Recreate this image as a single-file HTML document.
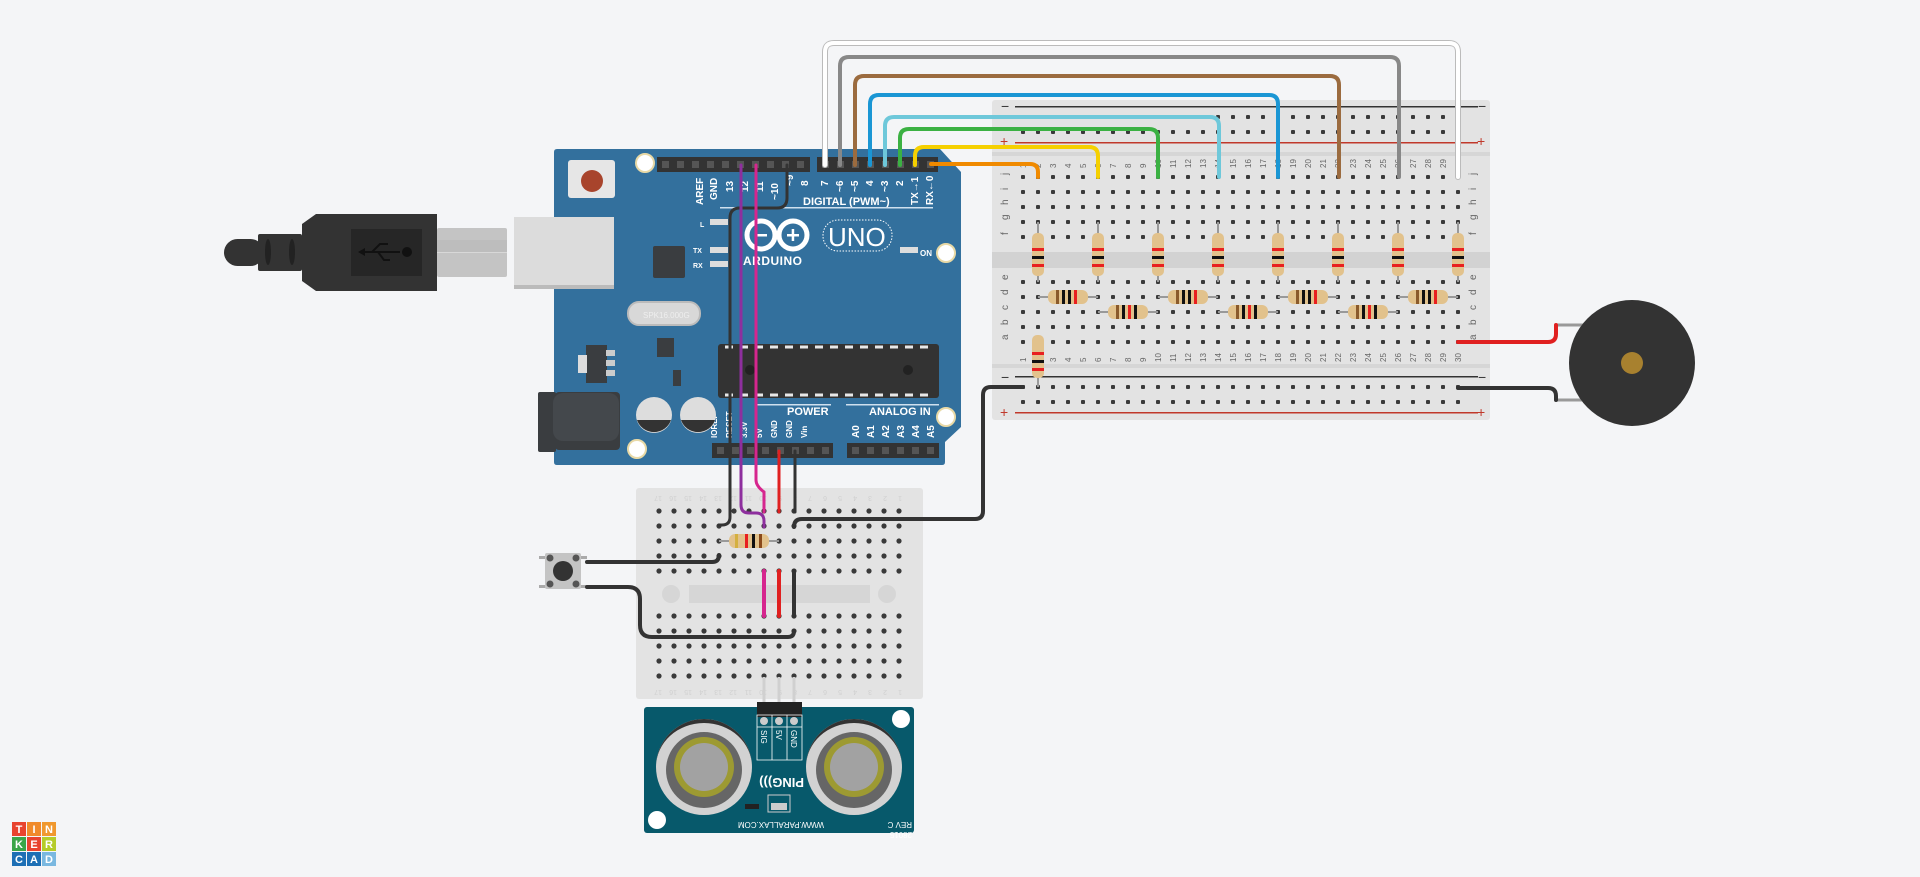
<!DOCTYPE html>
<html><head><meta charset="utf-8"><style>
html,body{margin:0;padding:0;background:#f4f5f7;}
svg{display:block;font-family:"Liberation Sans",sans-serif;}
</style></head><body>
<svg id="s" width="1920" height="877" viewBox="0 0 1920 877" xmlns="http://www.w3.org/2000/svg">
<defs>
<pattern id="hb" x="1015.5" y="169.5" width="15" height="15" patternUnits="userSpaceOnUse"><rect x="5.5" y="5.5" width="4" height="4" rx="1" fill="#3a3a3a"/></pattern>
<pattern id="hs" x="651.5" y="503.5" width="15" height="15" patternUnits="userSpaceOnUse"><circle cx="7.5" cy="7.5" r="2.6" fill="#3a3a3a"/></pattern>
</defs>

<!-- USB cable -->
<rect x="224" y="239" width="40" height="27" rx="13.5" fill="#333"/>
<rect x="258" y="234" width="44" height="37" rx="2" fill="#333"/>
<ellipse cx="268" cy="252" rx="3" ry="13" fill="#222"/><ellipse cx="292" cy="252" rx="3" ry="13" fill="#222"/>
<path d="M302,224 L316,214 H437 V291 H316 L302,281 Z" fill="#333"/>
<rect x="351" y="229" width="71" height="47" fill="#262626"/>
<path d="M362,252 H400 M372,252 l8,-8 h8 M378,252 l6,8 h6" stroke="#111" stroke-width="2" fill="none"/>
<circle cx="407" cy="252" r="5" fill="#111"/><polygon points="358,252 365,248 365,256" fill="#111"/>
<rect x="437" y="228" width="70" height="49" rx="2" fill="#c4c4c4"/>
<rect x="437" y="240" width="70" height="12" fill="#bdbdbd"/>
<rect x="437" y="252" width="70" height="1" fill="#d8d8d8"/>

<!-- Arduino -->
<path d="M554,152 Q554,149 557,149 H940 L961,172 V427 L945,442 V462 Q945,465 942,465 H557 Q554,465 554,462 Z" fill="#33709d"/>
<rect x="538" y="392" width="18" height="60" rx="2" fill="#3a3d40"/>
<rect x="555" y="392" width="65" height="58" rx="4" fill="#3a3d40"/>
<rect x="553" y="393" width="66" height="48" rx="10" fill="#44484c"/>
<rect x="514" y="217" width="100" height="72" fill="#dcdcdc"/>
<rect x="514" y="285" width="100" height="4" fill="#bbb"/>
<rect x="568" y="160" width="47" height="38" rx="3" fill="#e6e6e6"/>
<circle cx="592" cy="181" r="11" fill="#a8442c"/>
<circle cx="645" cy="163" r="9" fill="#fff" stroke="#e8d9a6" stroke-width="2"/>
<circle cx="946" cy="253" r="9" fill="#fff" stroke="#e8d9a6" stroke-width="2"/>
<circle cx="946" cy="417" r="9" fill="#fff" stroke="#e8d9a6" stroke-width="2"/>
<circle cx="637" cy="449" r="9" fill="#fff" stroke="#e8d9a6" stroke-width="2"/>
<!-- headers -->
<rect x="657" y="157" width="153" height="15" fill="#333"/>
<rect x="817" y="157" width="121" height="15" fill="#333"/>
<rect x="712" y="443" width="121" height="15" fill="#333"/>
<rect x="847" y="443" width="92" height="15" fill="#333"/>
<g fill="#555">
<rect x="662" y="161" width="7" height="7"/><rect x="677" y="161" width="7" height="7"/><rect x="692" y="161" width="7" height="7"/><rect x="707" y="161" width="7" height="7"/><rect x="722" y="161" width="7" height="7"/><rect x="737" y="161" width="7" height="7"/><rect x="752" y="161" width="7" height="7"/><rect x="767" y="161" width="7" height="7"/><rect x="782" y="161" width="7" height="7"/><rect x="797" y="161" width="7" height="7"/>
<rect x="822" y="161" width="7" height="7"/><rect x="837" y="161" width="7" height="7"/><rect x="852" y="161" width="7" height="7"/><rect x="867" y="161" width="7" height="7"/><rect x="882" y="161" width="7" height="7"/><rect x="897" y="161" width="7" height="7"/><rect x="912" y="161" width="7" height="7"/><rect x="927" y="161" width="7" height="7"/>
<rect x="717" y="447" width="7" height="7"/><rect x="732" y="447" width="7" height="7"/><rect x="747" y="447" width="7" height="7"/><rect x="762" y="447" width="7" height="7"/><rect x="777" y="447" width="7" height="7"/><rect x="792" y="447" width="7" height="7"/><rect x="807" y="447" width="7" height="7"/><rect x="822" y="447" width="7" height="7"/>
<rect x="852" y="447" width="7" height="7"/><rect x="867" y="447" width="7" height="7"/><rect x="882" y="447" width="7" height="7"/><rect x="897" y="447" width="7" height="7"/><rect x="912" y="447" width="7" height="7"/><rect x="927" y="447" width="7" height="7"/>
</g>
<g fill="#fff" font-size="10" font-weight="bold">
<g transform="rotate(-90)">
<text x="-205" y="703">AREF</text><text x="-200" y="717">GND</text><text x="-192" y="733">13</text><text x="-192" y="748">12</text><text x="-192" y="763">11</text><text x="-200" y="778">~10</text><text x="-186" y="793">~9</text><text x="-186" y="808">8</text>
<text x="-186" y="828">7</text><text x="-192" y="843">~6</text><text x="-192" y="858">~5</text><text x="-186" y="873">4</text><text x="-192" y="888">~3</text><text x="-186" y="903">2</text><text x="-205" y="918">TX→1</text><text x="-205" y="933">RX←0</text>
<text x="-438" y="717" font-size="8">IOREF</text><text x="-438" y="732" font-size="8">RESET</text><text x="-438" y="747" font-size="8">3.3V</text><text x="-438" y="762" font-size="8">5V</text><text x="-438" y="777" font-size="8">GND</text><text x="-438" y="792" font-size="8">GND</text><text x="-438" y="807" font-size="8">Vin</text>
<text x="-438" y="859">A0</text><text x="-438" y="874">A1</text><text x="-438" y="889">A2</text><text x="-438" y="904">A3</text><text x="-438" y="919">A4</text><text x="-438" y="934">A5</text>
</g>
<text x="803" y="205" font-size="11">DIGITAL (PWM~)</text>
<text x="787" y="415" font-size="11">POWER</text>
<text x="869" y="415" font-size="11">ANALOG IN</text>
<text x="700" y="227" font-size="7">L</text><text x="693" y="253" font-size="7">TX</text><text x="693" y="268" font-size="7">RX</text><text x="920" y="256" font-size="8">ON</text>
<text x="743" y="265" font-size="12" letter-spacing="0.5">ARDUINO</text>
</g>
<rect x="720" y="207" width="213" height="1.5" fill="#cfe0ee"/>
<rect x="755" y="404" width="76" height="1.5" fill="#cfe0ee"/><rect x="846" y="404" width="93" height="1.5" fill="#cfe0ee"/>
<g fill="#ddd"><rect x="710" y="219" width="18" height="6"/><rect x="710" y="247" width="18" height="6"/><rect x="710" y="261" width="18" height="6"/><rect x="900" y="247" width="18" height="6"/></g>
<circle cx="761" cy="235" r="14" fill="none" stroke="#fff" stroke-width="5"/><circle cx="793" cy="235" r="14" fill="none" stroke="#fff" stroke-width="5"/>
<rect x="755" y="234" width="12" height="2.5" fill="#fff"/><rect x="787" y="234" width="12" height="2.5" fill="#fff"/><rect x="791.7" y="229" width="2.5" height="12" fill="#fff"/>
<rect x="823" y="220" width="69" height="31" rx="15" fill="none" stroke="#fff" stroke-width="1" stroke-dasharray="1.5 1.5"/>
<text x="828" y="246" fill="#fff" font-size="26">UNO</text>
<rect x="653" y="246" width="32" height="32" rx="2" fill="#3a3d40"/>
<rect x="628" y="302" width="72" height="23" rx="11" fill="#d8d8d8" stroke="#bbb" stroke-width="2"/>
<text x="643" y="318" font-size="8" fill="#eee">SPK16.000G</text>
<rect x="586" y="345" width="21" height="38" fill="#3a3d40"/>
<rect x="606" y="350" width="9" height="6" fill="#ccc"/><rect x="606" y="360" width="9" height="6" fill="#ccc"/><rect x="606" y="370" width="9" height="6" fill="#ccc"/>
<rect x="578" y="355" width="9" height="18" fill="#ddd"/>
<rect x="657" y="338" width="17" height="19" fill="#3a3d40"/>
<rect x="673" y="370" width="8" height="16" fill="#3a3d40"/>
<rect x="718" y="344" width="221" height="54" rx="3" fill="#333"/>
<path d="M725,347 H935" stroke="#e8e8e8" stroke-width="3" stroke-dasharray="8 7"/>
<path d="M725,395 H935" stroke="#e8e8e8" stroke-width="3" stroke-dasharray="8 7"/>
<circle cx="750" cy="370" r="5" fill="#222"/><circle cx="908" cy="370" r="5" fill="#222"/>
<circle cx="654" cy="415" r="18" fill="#ddd"/><path d="M637,420 A18,18 0 0 0 671,420 Z" fill="#333"/>
<circle cx="698" cy="415" r="18" fill="#ddd"/><path d="M681,420 A18,18 0 0 0 715,420 Z" fill="#333"/>

<!-- Big breadboard -->
<rect x="992" y="100" width="498" height="320" rx="3" fill="#e3e3e3"/>
<rect x="992" y="252" width="498" height="16" fill="#d2d2d2"/>
<rect x="992" y="152" width="498" height="4" fill="#d6d6d6"/>
<rect x="992" y="364" width="498" height="4" fill="#d6d6d6"/>
<rect x="1015" y="106" width="463" height="1.5" fill="#333"/>
<rect x="1015" y="142" width="463" height="1.5" fill="#c0392b"/>
<rect x="1015" y="376" width="463" height="1.5" fill="#333"/>
<rect x="1015" y="412" width="463" height="1.5" fill="#c0392b"/>
<g font-size="14" fill="#333"><text x="1001" y="111">−</text><text x="1478" y="111">−</text><text x="1001" y="382">−</text><text x="1478" y="382">−</text></g>
<g font-size="14" fill="#c0392b"><text x="1000" y="146">+</text><text x="1477" y="146">+</text><text x="1000" y="417">+</text><text x="1477" y="417">+</text></g>
<rect x="1015.5" y="109.5" width="450" height="30" fill="url(#hb)"/>
<rect x="1015.5" y="379.5" width="450" height="30" fill="url(#hb)"/>
<rect x="1015.5" y="169.5" width="450" height="75" fill="url(#hb)"/>
<rect x="1015.5" y="274.5" width="450" height="75" fill="url(#hb)"/>
<g id="bbtext" font-size="8" fill="#666"></g>

<!-- Small breadboard -->
<rect x="636" y="488" width="287" height="211" rx="3" fill="#e3e3e3"/>
<rect x="689" y="585" width="181" height="18" fill="#d6d6d6"/>
<circle cx="671" cy="594" r="9" fill="#d6d6d6"/><circle cx="887" cy="594" r="9" fill="#d6d6d6"/>
<rect x="651.5" y="503.5" width="255" height="75" fill="url(#hs)"/>
<rect x="651.5" y="608.5" width="255" height="75" fill="url(#hs)"/>
<g id="sbtext" font-size="7" fill="#d0d0d0"></g>

<!-- Ping sensor -->
<rect x="644" y="707" width="270" height="126" rx="3" fill="#07596b"/>
<g>
<circle cx="704" cy="767" r="48" fill="#d2d2d2"/><path d="M656,767 A48,48 0 0 1 752,767 A48,44 0 0 0 656,767Z" fill="#333"/>
<circle cx="704" cy="770" r="38" fill="#666"/><circle cx="704" cy="767" r="30" fill="#9d9a32"/><circle cx="704" cy="767" r="24" fill="#a2a2a2"/>
<circle cx="854" cy="767" r="48" fill="#d2d2d2"/><path d="M806,767 A48,48 0 0 1 902,767 A48,44 0 0 0 806,767Z" fill="#333"/>
<circle cx="854" cy="770" r="38" fill="#666"/><circle cx="854" cy="767" r="30" fill="#9d9a32"/><circle cx="854" cy="767" r="24" fill="#a2a2a2"/>
</g>
<circle cx="901" cy="719" r="9" fill="#fff"/><circle cx="657" cy="820" r="9" fill="#fff"/>
<path d="M764,677 V705 M779,677 V705 M794,677 V705" stroke="#d0d0d0" stroke-width="3"/>
<rect x="757" y="702" width="45" height="15" fill="#222"/>
<path d="M757,715 H802 V760 H757 Z M772,715 V760 M787,715 V760 M757,727 H802" stroke="#fff" stroke-width="0.8" fill="none"/>
<circle cx="764" cy="721" r="4" fill="#ccc"/><circle cx="779" cy="721" r="4" fill="#ccc"/><circle cx="794" cy="721" r="4" fill="#ccc"/>
<g fill="#fff" font-size="8">
<text transform="translate(761,730) rotate(90)">SIG</text><text transform="translate(776,730) rotate(90)">5V</text><text transform="translate(791,730) rotate(90)">GND</text>
<text transform="translate(804,778) rotate(180)" font-size="13" font-weight="bold">PING)))</text>
<text transform="translate(824,822) rotate(180)" font-size="8">WWW.PARALLAX.COM</text>
<text transform="translate(912,832) rotate(180)" font-size="8">28015</text>
<text transform="translate(912,822) rotate(180)" font-size="8">REV C</text>
</g>
<rect x="768" y="795" width="22" height="17" fill="none" stroke="#ccc"/><rect x="771" y="803" width="16" height="7" fill="#ccc"/>
<rect x="745" y="804" width="14" height="5" fill="#222"/>

<!-- Button -->
<rect x="539" y="556" width="48" height="3" fill="#aaa"/><rect x="539" y="585" width="48" height="3" fill="#aaa"/>
<rect x="545" y="553" width="36" height="36" rx="2" fill="#c4c4c4"/>
<circle cx="550" cy="558" r="3.5" fill="#555"/><circle cx="576" cy="558" r="3.5" fill="#555"/><circle cx="550" cy="584" r="3.5" fill="#555"/><circle cx="576" cy="584" r="3.5" fill="#555"/>
<circle cx="563" cy="571" r="10" fill="#333"/>

<!-- Buzzer -->
<path d="M1556,325 H1590 M1556,400 H1590" stroke="#999" stroke-width="3"/>
<circle cx="1632" cy="363" r="63" fill="#333"/>
<circle cx="1632" cy="363" r="11" fill="#a8812f"/>

<!-- Resistors -->
<g id="res"></g>

<!-- Wires -->
<g fill="none" stroke-width="4" stroke-linecap="round">
<path d="M825,165 V52 Q825,43 834,43 H1449 Q1458,43 1458,52 V177" stroke="#bbb" stroke-width="6"/>
<path d="M825,165 V52 Q825,43 834,43 H1449 Q1458,43 1458,52 V177" stroke="#fff"/>
<path d="M840,165 V66 Q840,57 849,57 H1390 Q1399,57 1399,66 V177" stroke="#888"/>
<path d="M855,165 V85 Q855,76 864,76 H1330 Q1339,76 1339,85 V177" stroke="#9b6b3f"/>
<path d="M870,165 V104 Q870,95 879,95 H1269 Q1278,95 1278,104 V177" stroke="#1a96d4"/>
<path d="M885,165 V126 Q885,117 894,117 H1210 Q1219,117 1219,126 V177" stroke="#6ec8da"/>
<path d="M900,165 V138 Q900,129 909,129 H1149 Q1158,129 1158,138 V177" stroke="#3bb143"/>
<path d="M915,165 V156 Q915,147 924,147 H1089 Q1098,147 1098,156 V177" stroke="#f5d000"/>
<path d="M931,164 H1030 Q1038,164 1038,172 V177" stroke="#f08a00"/>
<path d="M787,165 V198 Q787,208 777,208 H740 Q730,208 730,218 V517 Q730,525 722,525 H719" stroke="#333" stroke-width="3"/>
<path d="M741,165 V505 Q741,513 749,513 H756 Q764,513 764,521 V527" stroke="#8e2f9e" stroke-width="3"/>
<path d="M756,165 V480 Q756,486 764,492 V512" stroke="#d6268e" stroke-width="3"/>
<path d="M779,451 V512" stroke="#e02020" stroke-width="3"/>
<path d="M795,451 V512" stroke="#333" stroke-width="3"/>
<path d="M764,571 V616" stroke="#d6268e"/>
<path d="M779,571 V616" stroke="#e02020"/>
<path d="M794,571 V616" stroke="#333"/>
<path d="M1023,387 H991 Q983,387 983,395 V511 Q983,519 975,519 H802 Q794,519 794,527" stroke="#333"/>
<path d="M587,562 H712 Q719,562 719,555" stroke="#333"/>
<path d="M587,587 H628 Q640,587 640,599 V625 Q640,637 652,637 H788 Q794,637 794,631" stroke="#333"/>
<path d="M1458,342 H1548 Q1556,342 1556,334 V325" stroke="#e02020"/>
<path d="M1458,388 H1548 Q1556,388 1556,396 V400" stroke="#333"/>
</g>

<!-- Logo -->
<g font-size="11" font-weight="bold" fill="#fff" text-anchor="middle">
<rect x="12" y="822" width="14" height="14" fill="#e8432e"/><rect x="27" y="822" width="14" height="14" fill="#f08a2a"/><rect x="42" y="822" width="14" height="14" fill="#f0982e"/>
<rect x="12" y="837" width="14" height="14" fill="#3aa548"/><rect x="27" y="837" width="14" height="14" fill="#e8432e"/><rect x="42" y="837" width="14" height="14" fill="#b5cc2a"/>
<rect x="12" y="852" width="14" height="14" fill="#1d6fb5"/><rect x="27" y="852" width="14" height="14" fill="#1d6fb5"/><rect x="42" y="852" width="14" height="14" fill="#7ab8e0"/>
<text x="19" y="833">T</text><text x="34" y="833">I</text><text x="49" y="833">N</text>
<text x="19" y="848">K</text><text x="34" y="848">E</text><text x="49" y="848">R</text>
<text x="19" y="863">C</text><text x="34" y="863">A</text><text x="49" y="863">D</text>
</g>
</svg>
<script>
var NS="http://www.w3.org/2000/svg";
function el(p,t,a,txt){var e=document.createElementNS(NS,t);for(var k in a)e.setAttribute(k,a[k]);if(txt!=null)e.textContent=txt;p.appendChild(e);return e;}
var bt=document.getElementById('bbtext');
for(var c=1;c<=30;c++){var x=1023+15*(c-1);
el(bt,'text',{transform:'translate('+(x+3)+',168) rotate(-90)'},c);
el(bt,'text',{transform:'translate('+(x+3)+',362) rotate(-90)'},c);}
var L1=['j','i','h','g','f'],L2=['e','d','c','b','a'];
for(var i=0;i<5;i++){
el(bt,'text',{transform:'translate(1008,'+(175+15*i)+') rotate(-90)','font-size':'10'},L1[i]);
el(bt,'text',{transform:'translate(1476,'+(175+15*i)+') rotate(-90)','font-size':'10'},L1[i]);
el(bt,'text',{transform:'translate(1008,'+(280+15*i)+') rotate(-90)','font-size':'10'},L2[i]);
el(bt,'text',{transform:'translate(1476,'+(280+15*i)+') rotate(-90)','font-size':'10'},L2[i]);}
var st=document.getElementById('sbtext');
for(var c=0;c<17;c++){var x=899-15*c;
el(st,'text',{transform:'translate('+(x+3)+',496) rotate(180)'},c+1);
el(st,'text',{transform:'translate('+(x+3)+',690) rotate(180)'},c+1);}
var R=document.getElementById('res');
function vres(x,y1,y2,b1,b2,bands){
el(R,'path',{d:'M'+x+','+y1+' V'+y2,stroke:'#999','stroke-width':2});
el(R,'rect',{x:x-6,y:b1,width:12,height:b2-b1,rx:5,fill:'#e2c28c'});
bands.forEach(function(b){el(R,'rect',{x:x-6,y:b[0],width:12,height:3,fill:b[1]});});}
function hres(y,x1,x2,bands){
el(R,'path',{d:'M'+x1+','+y+' H'+x2,stroke:'#999','stroke-width':2});
var cx=(x1+x2)/2;
el(R,'rect',{x:cx-20,y:y-7,width:40,height:14,rx:6,fill:'#e2c28c'});
bands.forEach(function(b){el(R,'rect',{x:cx+b[0],y:y-7,width:3,height:14,fill:b[1]});});}
for(var k=0;k<8;k++){vres(1038+60*k,222,282,233,276,[[248,'#e82020'],[256,'#111'],[264,'#e82020']]);}
vres(1038,342,387,335,378,[[352,'#e82020'],[360,'#111'],[368,'#e82020']]);
[1038,1158,1278,1398].forEach(function(x){hres(297,x,x+60,[[-12,'#8a5a2b'],[-6,'#111'],[0,'#111'],[6,'#e82020']]);});
[1098,1218,1338].forEach(function(x){hres(312,x,x+60,[[-12,'#8a5a2b'],[-6,'#111'],[0,'#e82020'],[6,'#111']]);});
hres(541,719,779,[[-14,'#d4b040'],[-4,'#e82020'],[3,'#111'],[10,'#8a4a1b']]);
</script>
</body></html>
